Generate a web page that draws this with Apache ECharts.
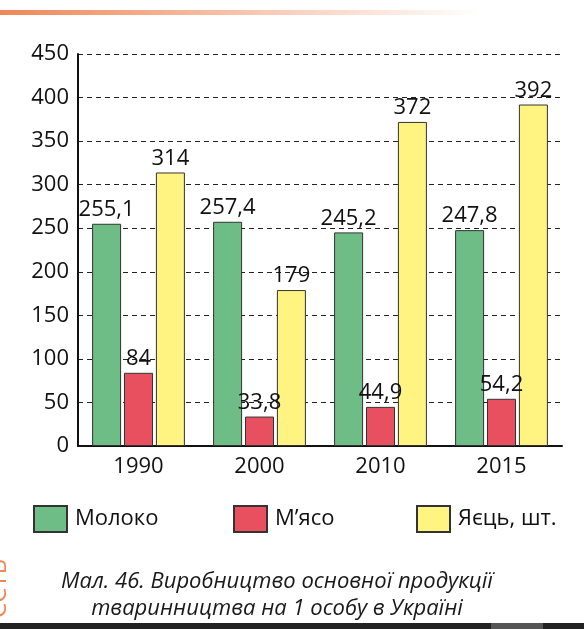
<!DOCTYPE html>
<html>
<head>
<meta charset="utf-8">
<script src="https://cdn.jsdelivr.net/npm/echarts@6/dist/echarts.min.js"></script>
<style>
  html, body { margin: 0; padding: 0; background: #fff; }
  #chart { width: 584px; height: 629px; }
</style>
</head>
<body>
<div id="chart"></div>
<script>
// роки
const years = ['1990', '2000', '2010', '2015'];
// значення
const milk = [255.1, 257.4, 245.2, 247.8];
const meat = [84, 33.8, 44.9, 54.2];
const eggs = [314, 179, 372, 392];
const seriesNames = ['Молоко', 'М’ясо', 'Яєць, шт.'];
const colors = ['#6fbd86', '#e8505f', '#fff482'];

const font = '"Open Sans", "Noto Sans", sans-serif';

function fmt(p) {
  return String(p.value).replace('.', ',');
}

function makeSeries(name, data, color) {
  return {
    name: name,
    type: 'bar',
    data: data,
    barWidth: 29,
    barGap: '10%',
    itemStyle: { color: color, borderColor: '#333', borderWidth: 1 },
    label: {
      show: true,
      position: 'top',
      distance: 3,
      formatter: fmt,
      fontFamily: font,
      fontSize: 22,
      color: '#111'
    }
  };
}

function legendAt(name, left) {
  return {
    data: [name],
    left: left,
    top: 500,
    icon: 'rect',
    itemWidth: 33,
    itemHeight: 26,
    itemGap: 0,
    textStyle: { fontFamily: font, fontSize: 22, color: '#111', padding: [0, 0, 0, 3] }
  };
}

const chart = echarts.init(document.getElementById('chart'));

const option = {
  animation: false,
  color: colors,
  grid: { left: 78, right: 22, top: 54, bottom: 183 },
  legend: [
    legendAt(seriesNames[0], 28),
    legendAt(seriesNames[1], 228),
    legendAt(seriesNames[2], 411)
  ],
  title: {
    text: 'Мал. 46. Виробництво основної продукції\nтваринництва на 1 особу в Україні',
    left: 272,
    top: 563,
    textAlign: 'center',
    textStyle: {
      fontFamily: font,
      fontStyle: 'italic',
      fontWeight: 'normal',
      fontSize: 22,
      lineHeight: 27,
      color: '#1a1a1a'
    }
  },
  xAxis: {
    type: 'category',
    data: years,
    axisLine: { lineStyle: { color: '#111', width: 2 } },
    axisTick: { inside: true, length: 8, lineStyle: { color: '#111', width: 2 } },
    axisLabel: { fontFamily: font, fontSize: 22, color: '#111', margin: 10 }
  },
  yAxis: {
    type: 'value',
    min: 0,
    max: 450,
    interval: 50,
    axisLine: { show: true, lineStyle: { color: '#111', width: 2 } },
    axisTick: { show: false },
    axisLabel: { fontFamily: font, fontSize: 22, color: '#111', margin: 9 },
    splitLine: { lineStyle: { color: '#222', width: 1, type: [5, 4] } }
  },
  series: [
    makeSeries(seriesNames[0], milk, colors[0]),
    makeSeries(seriesNames[1], meat, colors[1]),
    makeSeries(seriesNames[2], eggs, colors[2])
  ],
  graphic: [
    {
      // помаранчева смуга зверху
      type: 'rect',
      shape: { x: 0, y: 10, width: 480, height: 5 },
      style: {
        fill: new echarts.graphic.LinearGradient(0, 0, 1, 0, [
          { offset: 0, color: '#f08758' },
          { offset: 1, color: 'rgba(240,135,88,0)' }
        ])
      }
    },
    {
      type: 'rect',
      shape: { x: 0, y: 623, width: 584, height: 6 },
      style: { fill: '#222' }
    },
    {
      type: 'rect',
      shape: { x: 491, y: 623, width: 52, height: 6 },
      style: { fill: '#555' }
    },
    {
      type: 'text',
      x: -13,
      y: 618,
      rotation: Math.PI / 2,
      style: { text: 'ЄСТЬ', fill: '#f08758', font: '24px "Open Sans"' }
    }
  ]
};

chart.setOption(option);
window.onresize = function () {
  chart.resize();
};
</script>
</body>
</html>
